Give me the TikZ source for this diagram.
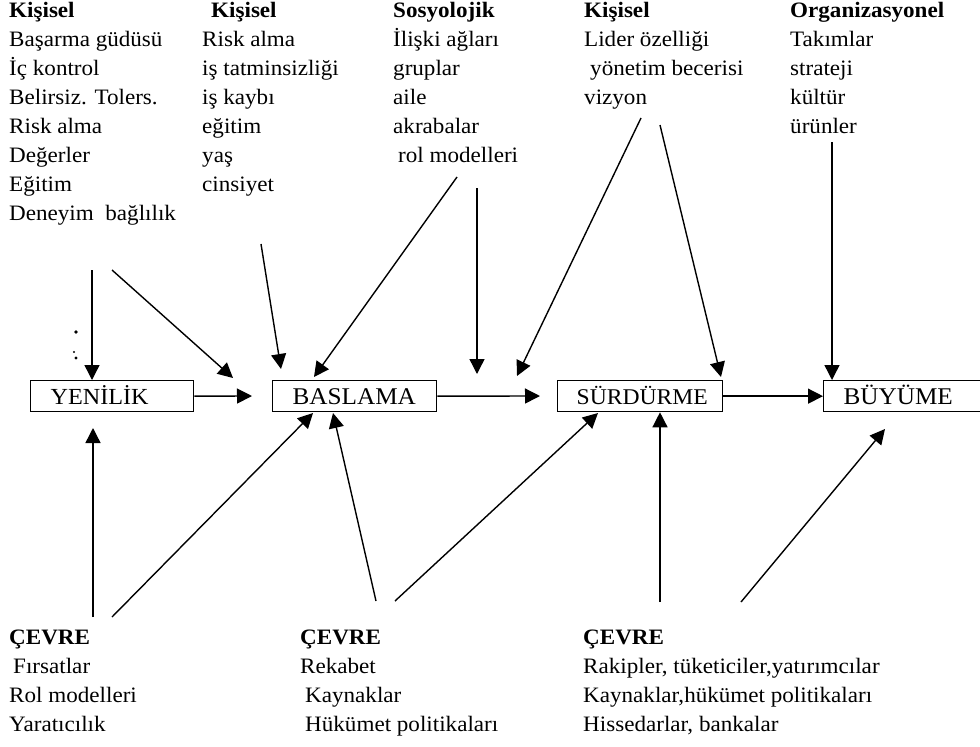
\documentclass[tikz,border=0pt]{standalone}
\usepackage{fontspec}
\setmainfont[FakeStretch=1.05]{Liberation Serif}
\usetikzlibrary{arrows.meta}
\begin{document}
\begin{tikzpicture}[x=1pt,y=-1pt,
  lbl/.style={anchor=base west, inner sep=0pt, font=\fontsize{22}{26}\selectfont},
  hdr/.style={anchor=base west, inner sep=0pt, font=\fontsize{22}{26}\selectfont\bfseries},
  box/.style={draw, line width=1.3pt, anchor=north west, minimum height=31pt,
    inner xsep=20pt, inner ysep=0pt, align=left, text height=17pt, text depth=1pt,
    font=\fontsize{24}{28}\selectfont},
  arr/.style={line width=1.4pt, -{Triangle[length=15pt,width=15pt]}},
  dust/.style={fill=black, draw=none},
]
\useasboundingbox (0,0) rectangle (980,747);
\fill[white] (0,0) rectangle (980,747);

% boxes
\node[box, text width=123pt, font=\fontsize{23}{27}\selectfont] (yen) at (30,380) {YENİLİK};
\node[box, text width=124pt] (bas) at (272,380) {BASLAMA};
\node[box, text width=127pt, inner xsep=19pt, font=\fontsize{22.5}{27}\selectfont] (sur) at (557,380) {SÜRDÜRME};
\node[box, text width=128pt] (buy) at (823,380) {BÜYÜME};

% top column 1
\node[hdr] (c1h) at (9,17) {Kişisel};
\node[lbl] (c1a) at (9,46) {Başarma güdüsü};
\node[lbl] (c1b) at (9,75) {İç kontrol};
\node[lbl] (c1c) at (9,104) {Belirsiz. Tolers.};
\node[lbl] (c1d) at (9,133) {Risk alma};
\node[lbl] (c1e) at (9,162) {Değerler};
\node[lbl] (c1f) at (9,191) {Eğitim};
\node[lbl] (c1g) at (9,220) {Deneyim\ \ bağlılık};
% top column 2
\node[hdr] (c2h) at (211,17) {Kişisel};
\node[lbl] (c2a) at (202,46) {Risk alma};
\node[lbl] (c2b) at (202,75) {iş tatminsizliği};
\node[lbl] (c2c) at (202,104) {iş kaybı};
\node[lbl] (c2d) at (202,133) {eğitim};
\node[lbl] (c2e) at (202,162) {yaş};
\node[lbl] (c2f) at (202,191) {cinsiyet};
% top column 3
\node[hdr] (c3h) at (393,17) {Sosyolojik};
\node[lbl] (c3a) at (393,46) {İlişki ağları};
\node[lbl] (c3b) at (393,75) {gruplar};
\node[lbl] (c3c) at (393,104) {aile};
\node[lbl] (c3d) at (393,133) {akrabalar};
\node[lbl] (c3e) at (398,162) {rol modelleri};
% top column 4
\node[hdr] (c4h) at (584,17) {Kişisel};
\node[lbl] (c4a) at (584,46) {Lider özelliği};
\node[lbl] (c4b) at (590,75) {yönetim becerisi};
\node[lbl] (c4c) at (584,104) {vizyon};
% top column 5
\node[hdr] (c5h) at (790,17) {Organizasyonel};
\node[lbl] (c5a) at (790,46) {Takımlar};
\node[lbl] (c5b) at (790,75) {strateji};
\node[lbl] (c5c) at (790,104) {kültür};
\node[lbl] (c5d) at (790,133) {ürünler};

% bottom columns
\node[hdr] (d1h) at (9,644) {ÇEVRE};
\node[lbl] (d1a) at (13,673) {Fırsatlar};
\node[lbl] (d1b) at (9,702) {Rol modelleri};
\node[lbl] (d1c) at (9,731) {Yaratıcılık};
\node[hdr] (d2h) at (300,644) {ÇEVRE};
\node[lbl] (d2a) at (300,673) {Rekabet};
\node[lbl] (d2b) at (305,702) {Kaynaklar};
\node[lbl] (d2c) at (305,731) {Hükümet politikaları};
\node[hdr] (d3h) at (583,644) {ÇEVRE};
\node[lbl] (d3a) at (583,673) {Rakipler, tüketiciler,yatırımcılar};
\node[lbl] (d3b) at (583,702) {Kaynaklar,hükümet politikaları};
\node[lbl] (d3c) at (583,731) {Hissedarlar, bankalar};

% free ends of connectors
\coordinate (s1) at (92,270);
\coordinate (s2) at (112,270);  \coordinate (e2) at (233,378);
\coordinate (s3) at (261,244);  \coordinate (e3) at (281,369);
\coordinate (s4) at (457,177);  \coordinate (e4) at (314,377);
\coordinate (s5) at (477,188);  \coordinate (e5) at (477,374);
\coordinate (s6) at (641,118);  \coordinate (e6) at (517,376);
\coordinate (s7) at (660,125);  \coordinate (e7) at (721,377);
\coordinate (s8) at (832,142);
\coordinate (h1) at (252,396);
\coordinate (h2) at (540,396);
\coordinate (u1) at (93,617);   \coordinate (v1) at (93,428);
\coordinate (u2) at (112,617);  \coordinate (v2) at (313,413);
\coordinate (u3) at (376,601);  \coordinate (v3) at (333,413);
\coordinate (u4) at (395,601);  \coordinate (v4) at (598,413);
\coordinate (u5) at (660,602);
\coordinate (u6) at (741,602);  \coordinate (v6) at (885,429);

% top connectors
\draw[arr] (s1) -- (s1 |- yen.north);
\draw[arr] (s2) -- (e2);
\draw[arr] (s3) -- (e3);
\draw[arr] (s4) -- (e4);
\draw[arr] (s5) -- (e5);
\draw[arr] (s6) -- (e6);
\draw[arr] (s7) -- (e7);
\draw[arr] (s8) -- (s8 |- buy.north);

% horizontal connectors
\draw[arr] (yen.east) -- (h1);
\draw[arr] (bas.east) -- (h2);
\draw[arr] (sur.east) -- (buy.west);

% bottom connectors
\draw[arr] (u1) -- (v1);
\draw[arr] (u2) -- (v2);
\draw[arr] (u3) -- (v3);
\draw[arr] (u4) -- (v4);
\draw[arr] (u5) -- (u5 |- sur.south);
\draw[arr] (u6) -- (v6);

% specks
\fill[dust] (76,332) circle (1.8pt);
\fill[dust] (74,352) circle (1.1pt);
\fill[dust] (76,358) circle (1.6pt);
\end{tikzpicture}
\end{document}
